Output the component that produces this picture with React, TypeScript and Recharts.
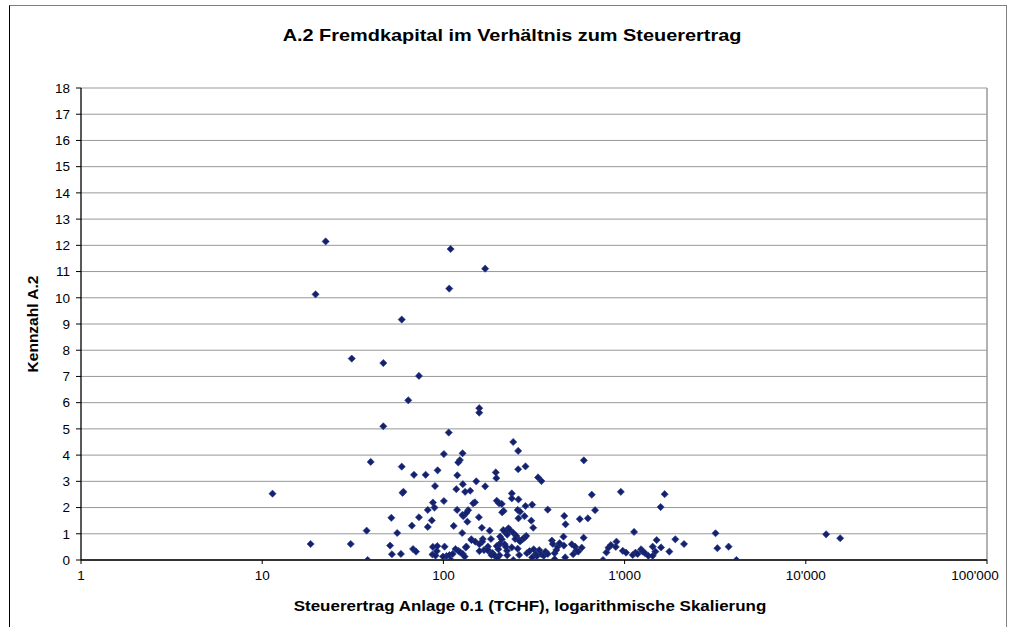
import { ScatterChart, Scatter, XAxis, YAxis, CartesianGrid, ReferenceLine } from "recharts";

// [Steuerertrag TCHF, Kennzahl A.2]
const punkteKlein: [number, number][] = [
  [11.4, 2.53], [18.5, 0.61], [19.7, 10.13], [22.4, 12.15], [30.8, 0.61], [31.2, 7.68],
  [37.7, 1.12], [38.2, 0], [39.7, 3.74], [46.6, 7.51], [46.6, 5.1], [50.8, 0.55],
  [51.6, 1.61], [52, 0.22], [55.6, 1.03], [58.3, 0.23], [58.9, 9.17], [58.9, 3.56],
  [59.5, 2.56], [60.2, 2.6], [64, 6.09], [67, 1.31], [68, 0.42], [68.8, 3.25],
  [70.6, 0.32], [73.3, 7.02], [73.3, 1.63], [79.8, 3.25], [82, 1.91], [82, 1.26],
  [86.3, 1.51], [87, 0.21], [87.5, 0.5], [87.5, 2.19], [89.3, 2.0], [89.9, 2.82],
  [90.5, 0.17], [92, 0.34], [92.5, 0.53], [92.9, 3.42],
];

const punkteMittel: [number, number][] = [
  [109.6, 11.86], [170, 11.11], [107.7, 10.35], [157.7, 5.79], [157.7, 5.62], [107, 4.86],
  [242.8, 4.5], [258.6, 4.16], [100.6, 4.04], [127.6, 4.07], [123.3, 3.81], [120.8, 3.72],
  [595.6, 3.8], [258.6, 3.46], [283.8, 3.57], [119.3, 3.23], [194.5, 3.34], [196, 3.12],
  [333, 3.15], [347.5, 3.01], [151.8, 3.0], [170, 2.81], [117.8, 2.7], [128, 2.89],
  [131.8, 2.6], [140.6, 2.64], [238.4, 2.54], [238.4, 2.35], [259.6, 2.31], [659, 2.49],
  [953, 2.6], [100.6, 2.25], [149.2, 2.2], [146, 2.16], [197, 2.26], [203, 2.16],
  [119, 1.91], [137, 1.9], [210, 2.14], [215, 1.87], [211, 1.82], [283.8, 2.06],
  [309, 2.11], [376.5, 1.92], [257, 1.91], [265, 1.84], [259.6, 1.59], [128.8, 1.67],
  [127.3, 1.72], [134, 1.8], [135.6, 1.46], [157, 1.63], [280.5, 1.67], [114, 1.3],
  [163, 1.23], [127, 1.03], [305.6, 1.5], [313, 1.23], [464.5, 1.68], [472, 1.36],
  [566, 1.56], [627, 1.59], [687, 1.9], [180, 1.12], [183, 0.8], [165, 0.8],
  [142.5, 0.79], [214, 1.14], [219, 1.07], [228.6, 1.21], [233, 1.14], [225, 0.97],
  [242.8, 1.04], [252.4, 0.92], [249, 0.8], [205.5, 0.89], [210, 0.79], [205, 0.62],
  [202, 0.57], [286.4, 0.92], [280.5, 0.85], [273, 0.79], [262, 0.76], [265, 0.71],
  [163.8, 0.7], [167.5, 0.38], [176, 0.51], [180, 0.32], [175, 0.38], [187, 0.26],
  [197, 0.53], [201, 0.41], [218, 0.6], [220.7, 0.51], [224.5, 0.35], [238.4, 0.48],
  [257, 0.43], [225, 0.18], [204, 0.18], [198, 0.09], [243, 0], [262, 0.19],
  [289, 0.26], [299, 0.34], [315, 0.41], [324, 0.23], [328, 0.15], [309, 0.1],
  [338, 0.38], [347, 0.22], [358, 0.16], [366, 0.32], [376.5, 0.23], [397, 0.74],
  [402, 0.61], [411, 0.26], [411, 0.03], [420, 0.38], [427, 0.51], [437.5, 0.64],
  [460, 0.89], [462, 0.55], [470, 0.1], [511, 0.6], [520, 0.22], [533, 0.51],
  [540, 0.35], [580, 0.47], [594, 0.85], [555, 0.32], [760, 0], [101.5, 0.51],
  [104, 0.15], [99.5, 0.13], [108, 0.19], [110, 0], [112.6, 0.23], [116.6, 0.42],
  [121, 0.35], [124, 0.29], [128, 0.23], [131, 0.13], [132.8, 0.48], [134, 0.51],
  [143, 0.76], [150, 0.7], [158, 0.6], [158, 0.34], [184, 0.19], [191, 0.18],
  [794, 0.29], [815, 0.47], [840, 0.57], [902, 0.7], [894, 0.5], [977, 0.35],
];

const punkteGross: [number, number][] = [
  [1019, 0.28], [1128, 1.07], [1109, 0.19], [1148, 0.28], [1180, 0.23], [1233, 0.41],
  [1259, 0.32], [1297, 0.26], [1352, 0.16], [1429, 0.51], [1429, 0.16], [1479, 0.32],
  [1503, 0.76], [1589, 0.48], [1581, 2.02], [1663, 2.51], [1766, 0.32], [1905, 0.79],
  [2128, 0.61], [3177, 1.02], [3250, 0.45], [3750, 0.51], [4140, 0], [12950, 0.98],
  [15480, 0.83],
];

const xTicks = [1, 10, 100, 1000, 10000, 100000];
const yTicks = [0, 1, 2, 3, 4, 5, 6, 7, 8, 9, 10, 11, 12, 13, 14, 15, 16, 17, 18];

const data = [...punkteKlein, ...punkteMittel, ...punkteGross].map(([x, y]) => ({ x, y }));

const FONT = "'Liberation Sans', Arial, sans-serif";
const NAVY = "#14216b";
const GRID = "#999999";

const fmt = (v: number) => String(v).replace(/\B(?=(\d{3})+(?!\d))/g, "'");

const Diamond = (props: any) => {
  const { cx, cy } = props;
  if (cx == null || cy == null) return null;
  const r = 3.6;
  return (
    <polygon
      points={`${cx},${cy - r} ${cx + r},${cy} ${cx},${cy + r} ${cx - r},${cy}`}
      fill={NAVY}
      stroke="#26368c"
      strokeWidth={0.6}
    />
  );
};

// last label is pulled inside the chart area, like the original
const XTick = (props: any) => {
  const { x, y, payload } = props;
  const last = payload.value === xTicks[xTicks.length - 1];
  return (
    <text
      x={last ? x - 12 : x}
      y={y}
      dy="0.71em"
      textAnchor="middle"
      fontSize={13.5}
      fontFamily={FONT}
      fill="#000"
    >
      {fmt(payload.value)}
    </text>
  );
};

export default function App() {
  return (
    <div style={{ position: "absolute", left: 0, top: 0, width: 1014, height: 627, background: "#fff", overflow: "hidden", fontFamily: FONT }}>
      <div
        style={{
          position: "absolute",
          left: 9,
          top: 5,
          width: 996,
          height: 660,
          borderLeft: "1px solid #000",
          borderTop: "1px solid #808080",
          borderRight: "1px solid #808080",
        }}
      />
      <div
        style={{
          position: "absolute",
          left: 512,
          top: 36,
          transform: "translate(-50%, -50%) scaleX(1.17)",
          whiteSpace: "nowrap",
          fontSize: 17,
          fontWeight: "bold",
          color: "#000",
        }}
      >
        A.2 Fremdkapital im Verhältnis zum Steuerertrag
      </div>
      <div
        style={{
          position: "absolute",
          left: 530,
          top: 606,
          transform: "translate(-50%, -50%) scaleX(1.17)",
          whiteSpace: "nowrap",
          fontSize: 14.5,
          fontWeight: "bold",
          color: "#000",
        }}
      >
        Steuerertrag Anlage 0.1 (TCHF), logarithmische Skalierung
      </div>
      <div
        style={{
          position: "absolute",
          left: 33,
          top: 324,
          transform: "translate(-50%, -50%) rotate(-90deg) scaleX(1.07)",
          whiteSpace: "nowrap",
          fontSize: 14.5,
          fontWeight: "bold",
          color: "#000",
        }}
      >
        Kennzahl A.2
      </div>
      <div style={{ position: "absolute", left: 0, top: 0 }}>
        <ScatterChart width={1014} height={627} margin={{ top: 88, right: 27, bottom: 37, left: 41 }}>
          <CartesianGrid vertical={false} stroke={GRID} strokeWidth={1} />
          <XAxis
            type="number"
            dataKey="x"
            scale="log"
            domain={[1, 100000]}
            ticks={xTicks}
            interval={0}
            allowDataOverflow
            axisLine={{ stroke: "#000", strokeWidth: 1.3 }}
            tickLine={{ stroke: "#000" }}
            tickSize={4}
            tickMargin={6}
            height={30}
            tick={<XTick />}
          />
          <YAxis
            type="number"
            dataKey="y"
            domain={[0, 18]}
            ticks={yTicks}
            interval={0}
            allowDataOverflow
            axisLine={{ stroke: "#000", strokeWidth: 1.3 }}
            tickLine={{ stroke: "#000" }}
            tickSize={5}
            tickMargin={6}
            width={40}
            tick={{ fontSize: 13.5, fontFamily: FONT, fill: "#000" }}
          />
          <ReferenceLine x={100000} stroke={GRID} strokeWidth={1.5} />
          <Scatter data={data} shape={<Diamond />} isAnimationActive={false} />
        </ScatterChart>
      </div>
    </div>
  );
}
